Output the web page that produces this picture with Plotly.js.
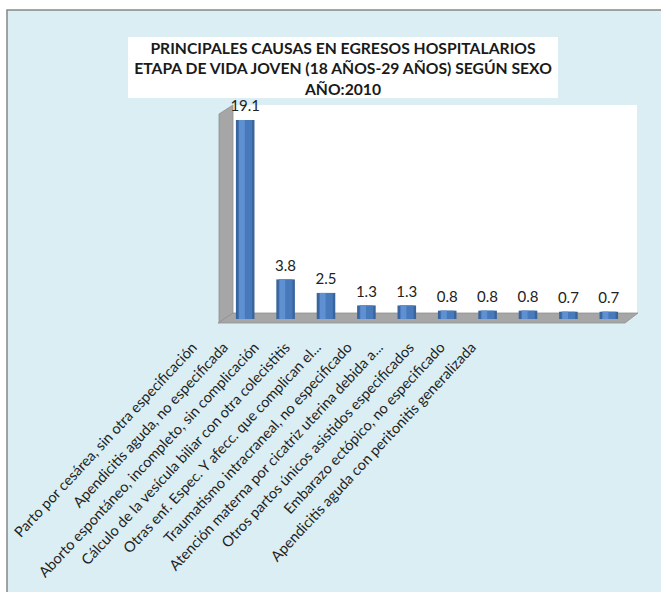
<!DOCTYPE html>
<html><head><meta charset="utf-8">
<script src="https://cdn.plot.ly/plotly-3.0.1.min.js"></script>
<style>html,body{margin:0;padding:0;background:#daeef3;overflow:hidden}#chart{width:661px;height:592px}</style>
</head><body><div id="chart"></div>
<script>
const categories = [
  "Parto por cesárea, sin otra especificación",
  "Apendicitis aguda, no especificada",
  "Aborto espontáneo, incompleto, sin complicación",
  "Cálculo de la vesícula biliar con otra colecistitis",
  "Otras enf. Espec. Y afecc. que complican el...",
  "Traumatismo intracraneal, no especificado",
  "Atención materna por cicatriz uterina debida a...",
  "Otros partos únicos asistidos especificados",
  "Embarazo ectópico, no especificado",
  "Apendicitis aguda con peritonitis generalizada"
];
const values = [19.1, 3.8, 2.5, 1.3, 1.3, 0.8, 0.8, 0.8, 0.7, 0.7];
const titleLines = ["PRINCIPALES CAUSAS EN EGRESOS HOSPITALARIOS", "ETAPA DE VIDA JOVEN (18 AÑOS-29 AÑOS) SEGÚN SEXO", "AÑO:2010"];

const W = 661, H = 592;
const px = x => x / W;
const py = y => 1 - y / H;
const path = pts => 'M' + pts.map(p => px(p[0]) + ',' + py(p[1])).join(' L') + ' Z';

const font = "Lato, 'Open Sans', sans-serif";

const traces = [
  {type:'bar', x:categories, y:values, width:0.46, marker:{color:'#3a659c', line:{width:0}}, hoverinfo:'skip', showlegend:false},
  {type:'bar', x:categories, y:values, width:0.34, marker:{color:'#4779bb', line:{width:0}}, hoverinfo:'skip', showlegend:false},
  {type:'bar', x:categories, y:values, width:0.14, offset:-0.15, marker:{color:'#5f91d2', line:{width:0}}, hoverinfo:'skip', showlegend:false},
  {type:'scatter', mode:'markers+text', x:categories, y:values, text:values.map(v => v.toFixed(1)),
   textposition:'top center', textfont:{family:font, size:15, color:'#222'},
   marker:{size:6, opacity:0}, hoverinfo:'skip', showlegend:false, cliponaxis:false},
  {type:'scatter', mode:'markers', x:categories, y:values.map(() => 0), xaxis:'x2', yaxis:'y',
   marker:{opacity:0}, hoverinfo:'skip', showlegend:false}
];

const layout = {
  width: W, height: H,
  margin: {l:0, r:0, t:0, b:0, pad:0},
  paper_bgcolor: '#daeef3',
  plot_bgcolor: 'rgba(0,0,0,0)',
  barmode: 'overlay',
  title: {text: titleLines.join('<br>'), x: px(343), y: py(54), xanchor:'center', yanchor:'top',
          font:{family:font, size:15.7, color:'#1a1a1a', weight:'bold'}},
  xaxis: {domain:[px(225), px(629)], range:[-0.5, 9.5], showticklabels:false, showline:false,
          showgrid:false, zeroline:false, ticks:'', automargin:false, fixedrange:true},
  xaxis2: {domain:[px(177), px(487)], range:[-0.5, 9.5], anchor:'free', position:py(335),
           tickangle:-47, ticks:'', showline:false, showgrid:false, zeroline:false, automargin:false,
           tickfont:{family:font, size:14.6, color:'#1f1f1f'}, fixedrange:true},
  yaxis: {domain:[py(319), py(110.6)], range:[0, 20], visible:false, showgrid:false, zeroline:false, fixedrange:true},
  shapes: [
    {type:'path', xref:'paper', yref:'paper', path:path([[0,0],[661,0],[661,10],[7,10],[7,592],[0,592]]),
     fillcolor:'#ffffff', line:{width:0}, layer:'below'},
    {type:'path', xref:'paper', yref:'paper', path:'M' + px(7) + ',' + py(592) + ' L' + px(7) + ',' + py(10) + ' L' + px(661) + ',' + py(10),
     fillcolor:'rgba(0,0,0,0)', line:{color:'#868686', width:1.5}, layer:'below'},
    {type:'rect', xref:'paper', yref:'paper', x0:px(128), y0:py(37), x1:px(558), y1:py(98),
     fillcolor:'#ffffff', line:{width:0}, layer:'below'},
    {type:'path', xref:'paper', yref:'paper', path:path([[233,105],[637,105],[637,313],[233,313]]),
     fillcolor:'#ffffff', line:{width:0}, layer:'below'},
    {type:'path', xref:'paper', yref:'paper', path:path([[219,114],[233,105],[233,313],[219,323]]),
     fillcolor:'#a6a6a6', line:{color:'#8f8f8f', width:0.8}, layer:'below'},
    {type:'path', xref:'paper', yref:'paper', path:path([[233,313],[638,313],[625,323],[218,323]]),
     fillcolor:'#a6a6a6', line:{color:'#8f8f8f', width:0.8}, layer:'below'}
  ]
};

Plotly.newPlot('chart', traces, layout, {displayModeBar:false, staticPlot:true});
</script></body></html>
